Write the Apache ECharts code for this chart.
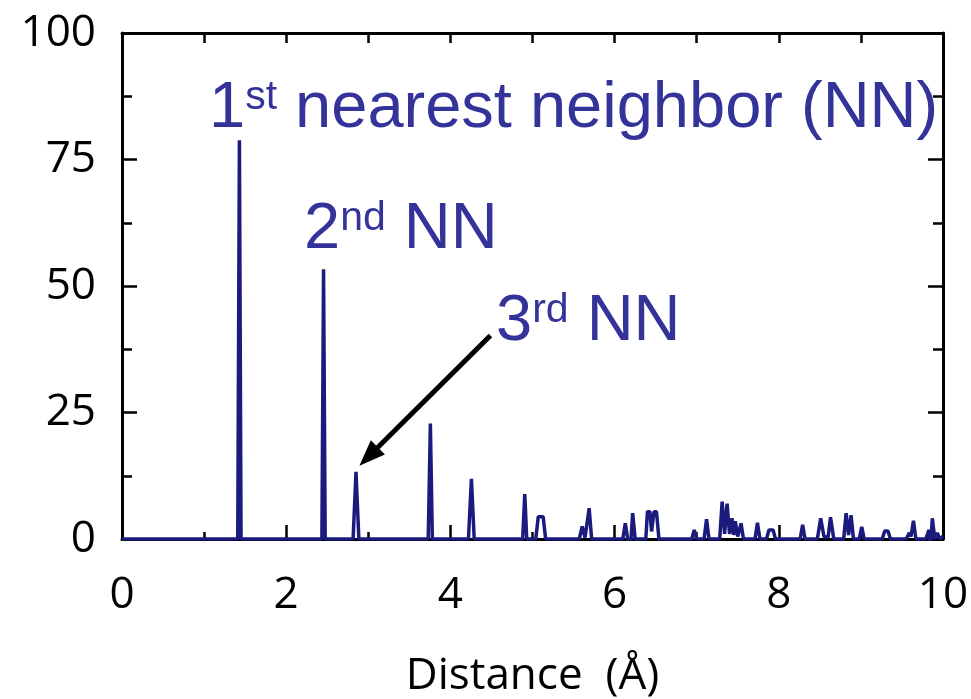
<!DOCTYPE html>
<html>
<head>
<meta charset="utf-8">
<script src="https://cdn.jsdelivr.net/npm/echarts@6/dist/echarts.min.js"></script>
<style>
	html, body {margin:0; padding:0; background:#fff;}
	#chart {width:971px; height:699px;}
</style>
</head>
<body>
<div id="chart"></div>
<script>
// 距离 (Å) 和计数
var distance = [0, 1.41, 1.43, 1.45, 2.435, 2.455, 2.475, 2.815, 2.85, 2.885, 3.73, 3.756, 3.78,
	4.22, 4.256, 4.29, 4.88, 4.906, 4.93, 5.04, 5.07, 5.13, 5.16,
	5.57, 5.605, 5.64, 5.69, 5.72, 6.1, 6.13, 6.16, 6.18, 6.2, 6.22, 6.25,
	6.38, 6.40, 6.43, 6.45, 6.48, 6.51, 6.54, 6.94, 6.97, 7.0, 7.09, 7.12, 7.15,
	7.28, 7.31, 7.34, 7.37, 7.40, 7.43, 7.45, 7.47, 7.50, 7.54, 7.57,
	7.71, 7.74, 7.77, 7.85, 7.88, 7.93, 7.96, 8.26, 8.29, 8.32,
	8.47, 8.51, 8.55, 8.6, 8.63, 8.67, 8.79, 8.82, 8.85, 8.88, 8.91, 8.98, 9.01, 9.04,
	9.26, 9.29, 9.33, 9.36, 9.55, 9.59, 9.61, 9.64, 9.67,
	9.79, 9.83, 9.84, 9.85, 9.87, 9.9, 9.93, 9.96, 10];
var counts = [0, 0, 78.8, 0, 0, 53.3, 0, 0, 13.3, 0, 0, 22.8, 0,
	0, 11.9, 0, 0, 8.9, 0, 0, 4.4, 4.4, 0,
	0, 2.5, 0.3, 6.1, 0, 0, 3.1, 0, -2.5, 0, 5.1, 0,
	0, 5.4, 5.4, 1.5, 5.4, 5.4, 0, 0, 1.8, 0, 0, 3.9, 0,
	0, 7.4, 1.0, 7.0, 1.0, 4.1, 0.8, 3.5, 0.5, 3.1, 0,
	0, 3.2, 0, 0, 1.8, 1.8, 0, 0, 2.8, 0,
	0, 4.1, 0.5, 0.3, 4.3, 0, 0, 5.1, 0.8, 4.7, 0, 0, 2.4, 0,
	0, 1.6, 1.6, 0, 0, 1.2, 0.5, 3.6, 0,
	0, 1.8, 0, -1.2, 4.1, 0, 1.2, 0, 0.5];

var xTicks = [0, 10, 2];      // min, max, interval
var yTicks = [0, 100, 25];
var arrowFrom = [4.488, 40.2];
var arrowTo = [3.004, 16.3];

var lineColor = '#1b1b7e';
var noteColor = '#333399';
var axisFont = 'Open Sans';
var noteFont = 'Liberation Sans';

var myChart = echarts.init(document.getElementById('chart'), null, {renderer:'canvas'});

var points = [];
for(var i = 0; i < distance.length; i++) {
	points.push([distance[i], counts[i]]);
}

function makeAxis(kind, pos, withLabel, tickLen, minorLen) {
	var t = kind == 'x' ? xTicks : yTicks;
	return {
		type:'value',
		position:pos,
		min:t[0],
		max:t[1],
		interval:t[2],
		axisLine:{show:true, onZero:false, lineStyle:{color:'#000', width:3}},
		axisTick:{show:true, inside:true, length:tickLen, lineStyle:{color:'#000', width:2.5}},
		minorTick:{show:true, splitNumber:2, length:minorLen, lineStyle:{color:'#000', width:2.5}},
		splitLine:{show:false},
		minorSplitLine:{show:false},
		axisLabel:{
			show:withLabel,
			color:'#000',
			fontFamily:axisFont,
			fontSize:44,
			margin: kind == 'x' ? 34 : 26
		}
	};
}

var xBottom = makeAxis('x', 'bottom', true, 14, 7);
xBottom.name = 'Distance  (Å)';
xBottom.nameLocation = 'middle';
xBottom.nameGap = 115;
xBottom.nameTextStyle = {color:'#000', fontFamily:axisFont, fontSize:44};

var xTop = makeAxis('x', 'top', false, 10, 10);
var yLeft = makeAxis('y', 'left', true, 15, 10);
var yRight = makeAxis('y', 'right', false, 15, 10);

var richNote = {
	a:{fontFamily:noteFont, fontSize:65, lineHeight:65, fill:noteColor},
	b:{fontFamily:noteFont, fontSize:41, lineHeight:41, fill:noteColor, verticalAlign:'top'}
};

option = {
	animation:false,
	backgroundColor:'#fff',
	grid:{left:122, right:28, top:33, bottom:160, containLabel:false, outerBoundsMode:'none'},
	xAxis:[xBottom, xTop],
	yAxis:[yLeft, yRight],
	series:[{
		type:'line',
		data:points,
		showSymbol:false,
		symbol:'none',
		lineStyle:{color:lineColor, width:3.5},
		z:3,
		markLine:{
			silent:true,
			symbol:['none', 'triangle'],
			symbolSize:[20, 26],
			label:{show:false},
			lineStyle:{color:'#000', width:5, type:'solid'},
			data:[[{coord:arrowFrom}, {coord:arrowTo}]]
		}
	}],
	graphic:[
		{type:'text', x:209, y:77, style:{text:'{a|1}{b|st}{a| nearest neighbor (NN)}', rich:richNote, verticalAlign:'top'}},
		{type:'text', x:304, y:198, style:{text:'{a|2}{b|nd}{a| NN}', rich:richNote, verticalAlign:'top'}},
		{type:'text', x:496, y:290, style:{text:'{a|3}{b|rd}{a| NN}', rich:richNote, verticalAlign:'top'}}
	]
};

myChart.setOption(option);
</script>
</body>
</html>
